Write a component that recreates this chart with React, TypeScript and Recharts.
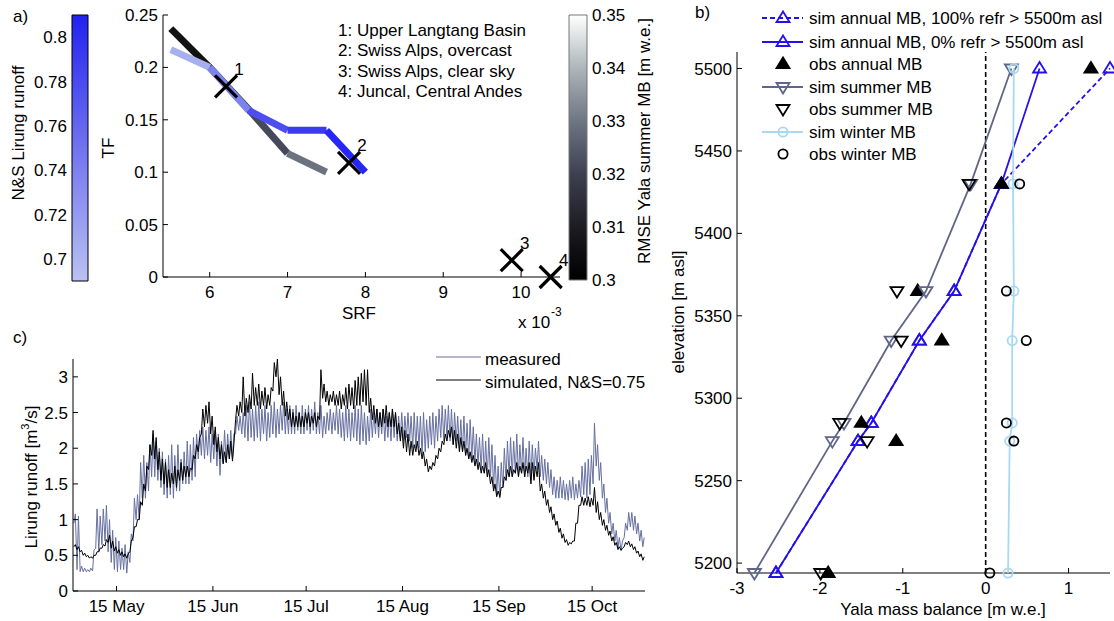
import React from "react";
import {
  ScatterChart,
  Scatter,
  LineChart,
  Line,
  XAxis,
  YAxis,
  ReferenceLine,
  ReferenceArea,
} from "recharts";

const FONT = '"Liberation Sans", Arial, Helvetica, sans-serif';
const TICK = { fontSize: 17, fill: "#000", fontFamily: FONT };
const AX = { stroke: "#000", strokeWidth: 1 };

// ---- panel a: TF vs SRF ----
const srfNS = [5.5, 6, 6.5, 7, 7.5, 8];
const tfNS = [0.217, 0.2, 0.159, 0.14, 0.14, 0.1];
const nsColors = ["#a7b0ee", "#7c83ef", "#4d4ef1", "#3a3af3", "#2727f5"];
const srfRMSE = [5.5, 6, 6.5, 7, 7.5];
const tfRMSE = [0.237, 0.2, 0.16, 0.118, 0.1];
const rmseColors = ["#121212", "#26262e", "#46495a", "#6c737f"];
const litSRF = [6.21, 7.79, 9.88, 10.38];
const litTF = [0.182, 0.109, 0.016, 0];
const litLabels = ["1", "2", "3", "4"];
const litNames = [
  "1: Upper Langtang Basin",
  "2: Swiss Alps, overcast",
  "3: Swiss Alps, clear sky",
  "4: Juncal, Central Andes",
];
const nsRange = [0.69, 0.81];
const nsTicks = [0.7, 0.72, 0.74, 0.76, 0.78, 0.8];
const rmseRange = [0.3, 0.35];
const rmseTicks = [0.3, 0.31, 0.32, 0.33, 0.34, 0.35];

// ---- panel b: Yala mass balance profile ----
const elev = [5194, 5274, 5285, 5335, 5365, 5430, 5500];
const simAnnual100 = [-2.53, -1.54, -1.38, -0.8, -0.38, 0.19, 1.5];
const simAnnual0 = [-2.53, -1.54, -1.38, -0.8, -0.38, 0.19, 0.65];
const obsAnnual = [-1.9, -1.08, -1.5, -0.53, -0.82, 0.19, 1.27];
const simSummer = [-2.79, -1.85, -1.71, -1.14, -0.72, -0.18, 0.31];
const obsSummer = [-1.99, -1.43, -1.76, -1.02, -1.07, -0.2, null];
const simWinter = [0.27, 0.29, 0.32, 0.32, 0.34, 0.33, 0.34];
const obsWinter = [0.05, 0.34, 0.25, 0.49, 0.25, 0.41, null];

// ---- panel c: Lirung runoff, daily high / low from 1 May ----
const measHi = [
  1.08, 1.05, 0.35, 0.32, 0.3, 0.32, 0.57, 1.15, 1.05, 1.15,
  1.2, 1.0, 0.85, 0.75, 0.7, 0.6, 0.65, 0.55, 0.8, 1.3,
  1.35, 1.8, 1.9, 1.8, 2.05, 2.2, 2.1, 2.0, 1.95, 1.85,
  1.9, 2.05, 1.9, 2.05, 1.85, 1.95, 2.1, 2.05, 2.15, 2.2,
  2.25, 2.3, 2.25, 2.3, 2.2, 2.25, 2.2, 2.1, 2.25, 2.2,
  2.25, 2.2, 2.45, 2.45, 2.5, 2.6, 2.65, 2.55, 2.6, 2.65,
  2.55, 2.6, 2.5, 2.6, 2.65, 2.55, 2.6, 2.65, 2.55, 2.6,
  2.55, 2.6, 2.5, 2.6, 2.55, 2.6, 2.55, 2.65, 2.5, 2.6,
  2.45, 2.5, 2.55, 2.5, 2.6, 2.55, 2.5, 2.6, 2.55, 2.5,
  2.6, 2.55, 2.6, 2.5, 2.45, 2.55, 2.5, 2.55, 2.5, 2.55,
  2.45, 2.5, 2.55, 2.5, 2.45, 2.5, 2.45, 2.5, 2.45, 2.5,
  2.45, 2.45, 2.5, 2.4, 2.45, 2.5, 2.45, 2.55, 2.6, 2.55,
  2.6, 2.55, 2.5, 2.45, 2.4, 2.45, 2.35, 2.4, 2.3, 2.2,
  2.15, 2.2, 2.1, 2.15, 2.05, 1.9, 1.75, 1.8, 2.0, 2.1,
  2.15, 2.1, 2.2, 2.05, 2.15, 2.0, 2.1, 2.05, 2.0, 2.1,
  1.9, 1.85, 1.8, 1.7, 1.6, 1.55, 1.6, 1.55, 1.5, 1.55,
  1.6, 1.5, 1.55, 1.75, 1.8, 1.85, 1.9, 2.35, 2.05, 1.8,
  1.5, 1.3, 1.1, 0.95, 0.85, 0.75, 0.7, 0.95, 1.1, 1.1,
  1.05, 0.95, 0.85, 0.75,
];
const measLo = [
  0.95, 0.3, 0.27, 0.27, 0.27, 0.27, 0.28, 0.6, 0.55, 0.65,
  0.7, 0.55, 0.4, 0.3, 0.27, 0.3, 0.3, 0.25, 0.4, 0.7,
  1.0, 1.0, 1.3, 1.3, 1.4, 1.6, 1.6, 1.55, 1.45, 1.35,
  1.3, 1.35, 1.3, 1.4, 1.4, 1.5, 1.5, 1.5, 1.55, 1.6,
  1.85, 1.9, 1.85, 1.9, 1.8, 1.85, 1.75, 1.62, 1.8, 1.8,
  1.85, 1.85, 2.2, 2.25, 2.2, 2.15, 2.1, 2.15, 2.1, 2.15,
  2.1, 2.2, 2.1, 2.15, 2.2, 2.15, 2.2, 2.25, 2.2, 2.2,
  2.2, 2.2, 2.25, 2.2, 2.2, 2.25, 2.2, 2.25, 2.2, 2.2,
  2.15, 2.2, 2.25, 2.2, 2.25, 2.2, 2.15, 2.1, 2.15, 2.1,
  2.15, 2.1, 2.05, 2.1, 2.05, 2.1, 2.15, 2.2, 2.15, 2.2,
  2.1, 2.15, 2.1, 2.15, 2.1, 2.15, 2.1, 2.15, 2.1, 2.0,
  2.0, 2.0, 1.9, 1.95, 2.0, 2.05, 2.0, 2.1, 2.15, 2.1,
  2.15, 2.1, 2.05, 2.1, 2.0, 1.95, 1.9, 1.85, 1.85, 1.8,
  1.75, 1.7, 1.65, 1.6, 1.6, 1.45, 1.35, 1.3, 1.45, 1.55,
  1.6, 1.6, 1.65, 1.6, 1.65, 1.6, 1.6, 1.55, 1.6, 1.7,
  1.6, 1.55, 1.5, 1.45, 1.35, 1.3, 1.3, 1.3, 1.28, 1.27,
  1.3, 1.28, 1.3, 1.32, 1.35, 1.3, 1.35, 1.5, 1.75, 1.55,
  1.3, 1.1, 0.95, 0.8, 0.7, 0.6, 0.57, 0.75, 0.85, 0.9,
  0.85, 0.8, 0.7, 0.62,
];
const simHi = [
  0.65, 0.62, 0.57, 0.53, 0.5, 0.48, 0.5, 0.55, 0.6, 0.65,
  0.72, 0.78, 0.7, 0.62, 0.58, 0.55, 0.52, 0.52, 0.7, 0.9,
  1.0, 1.25, 1.5, 1.75, 2.05, 2.25, 2.15, 1.95, 1.85, 1.8,
  1.7, 1.65, 1.75, 1.7, 1.8, 1.75, 1.75, 1.72, 1.9, 2.05,
  2.15, 2.55, 2.6, 2.65, 2.45, 2.3, 2.15, 2.05, 1.95, 2.05,
  2.1, 2.05, 2.6, 2.65, 3.0, 2.7, 2.75, 3.05, 2.85, 2.9,
  2.8, 2.85, 2.75, 2.85, 3.2, 3.25, 3.0, 2.8, 2.65, 2.55,
  2.5, 2.45, 2.5, 2.45, 2.5, 2.5, 2.45, 2.5, 2.45, 3.1,
  2.9, 2.8, 2.75, 2.8, 2.75, 2.8, 2.75, 2.85, 2.9, 2.85,
  2.95, 3.0, 3.05, 3.1, 3.1, 2.7, 2.6, 2.55, 2.5, 2.55,
  2.6, 2.5, 2.55, 2.5, 2.35, 2.3, 2.25, 2.2, 2.1, 2.05,
  2.1, 2.0, 1.95, 1.85, 1.75, 1.8, 1.9, 2.0, 2.1, 2.2,
  2.25, 2.3, 2.25, 2.2, 2.15, 2.1, 2.0, 1.95, 1.9, 1.85,
  1.8, 1.75, 1.8, 1.7, 1.6, 1.5, 1.4, 1.45, 1.6, 1.7,
  1.75, 1.7, 1.8, 1.75, 1.8, 1.75, 1.8, 1.8, 1.75, 1.8,
  1.5, 1.4, 1.28, 1.18, 1.08, 0.98, 0.88, 0.8, 0.72, 0.68,
  0.7, 0.95, 1.2, 1.32, 1.3, 1.32, 1.3, 1.45, 1.25, 1.1,
  1.0, 0.92, 0.84, 0.76, 0.68, 0.62, 0.6, 0.68, 0.7, 0.66,
  0.62, 0.56, 0.52, 0.48,
];
const simLo = [
  0.62, 0.58, 0.55, 0.5, 0.48, 0.46, 0.46, 0.5, 0.55, 0.6,
  0.63, 0.68, 0.6, 0.56, 0.53, 0.5, 0.48, 0.46, 0.55, 0.75,
  0.9, 1.0, 1.2, 1.4, 1.7, 1.9, 1.85, 1.7, 1.55, 1.5,
  1.45, 1.45, 1.5, 1.45, 1.55, 1.55, 1.6, 1.6, 1.7, 1.85,
  1.95, 2.2, 2.3, 2.35, 2.2, 2.05, 1.95, 1.85, 1.78, 1.8,
  1.85, 1.82, 2.4, 2.45, 2.5, 2.45, 2.5, 2.55, 2.6, 2.6,
  2.55, 2.6, 2.55, 2.6, 2.8, 3.0, 2.75, 2.6, 2.45, 2.4,
  2.3, 2.3, 2.3, 2.3, 2.3, 2.35, 2.3, 2.35, 2.3, 2.4,
  2.7, 2.65, 2.6, 2.65, 2.6, 2.6, 2.55, 2.6, 2.55, 2.6,
  2.55, 2.6, 2.6, 2.65, 2.6, 2.5, 2.4, 2.35, 2.3, 2.3,
  2.35, 2.3, 2.3, 2.3, 2.2, 2.1, 2.0, 1.95, 1.9, 1.9,
  1.95, 1.9, 1.85, 1.75, 1.67, 1.7, 1.75, 1.85, 1.95, 2.05,
  2.1, 2.15, 2.05, 2.0, 1.95, 1.95, 1.9, 1.85, 1.8, 1.75,
  1.7, 1.65, 1.65, 1.6, 1.5, 1.4, 1.32, 1.32, 1.45, 1.55,
  1.6, 1.6, 1.65, 1.6, 1.65, 1.6, 1.65, 1.5, 1.55, 1.6,
  1.4, 1.3, 1.2, 1.1, 1.0, 0.92, 0.82, 0.74, 0.68, 0.64,
  0.66, 0.7, 0.95, 1.2, 1.2, 1.2, 1.18, 1.2, 1.1, 1.0,
  0.92, 0.85, 0.78, 0.7, 0.64, 0.58, 0.57, 0.62, 0.65, 0.62,
  0.58, 0.53, 0.48, 0.43,
];
const dateTicks = [14, 45, 75, 106, 137, 167];
const dateLabels = ["15 May", "15 Jun", "15 Jul", "15 Aug", "15 Sep", "15 Oct"];

const MEAS = "#6670a0";
const BLUE = "#2410ee";
const SLATE = "#5f6688";
const SKY = "#a9d9f2";

const segments = (xs: number[], ys: number[], colors: string[]) =>
  colors.map((color, i) => ({
    color,
    pts: [
      { x: xs[i], y: ys[i] },
      { x: xs[i + 1], y: ys[i + 1] },
    ],
  }));
const nsSegs = segments(srfNS, tfNS, nsColors);
const rmseSegs = segments(srfRMSE, tfRMSE, rmseColors);
const litPts = litSRF.map((x, i) => ({ x, y: litTF[i], label: litLabels[i] }));

const profile = (xs: (number | null)[]) =>
  xs
    .map((x, i) => (x == null ? null : { x, y: elev[i] }))
    .filter((p) => p !== null) as { x: number; y: number }[];

const runoff = measHi.flatMap((_, d) => [
  { t: d + 0.3, m: measLo[d], s: simLo[d] },
  { t: d + 0.75, m: measHi[d], s: simHi[d] },
]);

const Empty = () => <g />;

const XMark = (p: any) => {
  const { cx, cy, payload } = p;
  const r = 11;
  return (
    <g>
      <path
        d={`M${cx - r},${cy - r}L${cx + r},${cy + r}M${cx - r},${cy + r}L${cx + r},${cy - r}`}
        stroke="#000"
        strokeWidth={3.2}
      />
      <text x={cx + 13} y={cy - 17} fontSize={17} fontFamily={FONT} textAnchor="middle" dominantBaseline="central">
        {payload.label}
      </text>
    </g>
  );
};

const triUp = (color: string, filled: boolean) => (p: any) => (
  <path
    d={`M${p.cx},${p.cy - 6.5}L${p.cx + 6.5},${p.cy + 4}L${p.cx - 6.5},${p.cy + 4}Z`}
    fill={filled ? color : "none"}
    stroke={color}
    strokeWidth={1.8}
  />
);
const triDown = (color: string) => (p: any) => (
  <path
    d={`M${p.cx},${p.cy + 6.5}L${p.cx + 6.5},${p.cy - 4}L${p.cx - 6.5},${p.cy - 4}Z`}
    fill="none"
    stroke={color}
    strokeWidth={1.8}
  />
);
const ring = (color: string) => (p: any) => (
  <circle cx={p.cx} cy={p.cy} r={4.6} fill="none" stroke={color} strokeWidth={1.8} />
);

const legendB = [
  { text: "sim annual MB, 100% refr > 5500m asl", line: BLUE, dash: "5 3", mark: "up", color: BLUE, fill: false },
  { text: "sim annual MB, 0% refr > 5500m asl", line: BLUE, dash: "", mark: "up", color: BLUE, fill: false },
  { text: "obs annual MB", line: "", dash: "", mark: "up", color: "#000", fill: true },
  { text: "sim summer MB", line: SLATE, dash: "", mark: "down", color: SLATE, fill: false },
  { text: "obs summer MB", line: "", dash: "", mark: "down", color: "#000", fill: false },
  { text: "sim winter MB", line: SKY, dash: "", mark: "ring", color: SKY, fill: false },
  { text: "obs winter MB", line: "", dash: "", mark: "ring", color: "#000", fill: false },
];
const legendBY = [18, 42, 64, 87, 109, 132, 154];

const Overlay = () => (
  <svg
    width={1114}
    height={621}
    style={{ position: "absolute", left: 0, top: 0, pointerEvents: "none" }}
    fontFamily={FONT}
    fontSize={17}
    fill="#000"
  >
    <text x={13} y={16} dominantBaseline="central">a)</text>
    <text x={695} y={12} dominantBaseline="central">b)</text>
    <text x={13} y={337} dominantBaseline="central">c)</text>

    {/* panel a labels */}
    <text x={18} y={133} textAnchor="middle" dominantBaseline="central" transform="rotate(-90 18 133)">
      N&amp;S Lirung runoff
    </text>
    <text x={108} y={148} textAnchor="middle" dominantBaseline="central" transform="rotate(-90 108 148)">
      TF
    </text>
    <text x={359} y={313} textAnchor="middle" dominantBaseline="central">SRF</text>
    <text x={518} y={322} dominantBaseline="central">x 10</text>
    <text x={551} y={312} fontSize={12} dominantBaseline="central">-3</text>
    {litNames.map((n, i) => (
      <text key={n} x={338} y={[30, 50, 71, 91][i]} dominantBaseline="central">
        {n}
      </text>
    ))}
    <text x={644} y={141} textAnchor="middle" dominantBaseline="central" transform="rotate(-90 644 141)">
      RMSE Yala summer MB [m w.e.]
    </text>

    {/* panel c labels */}
    <line x1={436} x2={481} y1={357} y2={357} stroke={MEAS} strokeWidth={1} />
    <text x={485} y={359} dominantBaseline="central">measured</text>
    <line x1={436} x2={481} y1={380} y2={380} stroke="#000" strokeWidth={1} />
    <text x={485} y={382} dominantBaseline="central">simulated, N&amp;S=0.75</text>
    <text x={31} y={477} textAnchor="middle" dominantBaseline="central" transform="rotate(-90 31 477)">
      Lirung runoff [m<tspan fontSize={11} dy={-6}>3</tspan>
      <tspan dy={6}>/s]</tspan>
    </text>

    {/* panel b labels */}
    {legendB.map((e, i) => {
      const y = legendBY[i];
      const cx = 783;
      return (
        <g key={e.text}>
          {e.line && (
            <line x1={762} x2={803} y1={y} y2={y} stroke={e.line} strokeWidth={1.8} strokeDasharray={e.dash || undefined} />
          )}
          {e.mark === "up" && triUp(e.color, e.fill)({ cx, cy: y })}
          {e.mark === "down" && triDown(e.color)({ cx, cy: y })}
          {e.mark === "ring" && ring(e.color)({ cx, cy: y })}
          <text x={809} y={y} dominantBaseline="central">
            {e.text}
          </text>
        </g>
      );
    })}
    <text x={678} y={312} textAnchor="middle" dominantBaseline="central" transform="rotate(-90 678 312)">
      elevation [m asl]
    </text>
    <text x={943} y={609} textAnchor="middle" dominantBaseline="central">
      Yala mass balance [m w.e.]
    </text>
  </svg>
);

export default function App() {
  return (
    <div
      style={{
        position: "absolute",
        left: 0,
        top: 0,
        width: 1114,
        height: 621,
        background: "#fff",
        fontFamily: FONT,
        overflow: "hidden",
      }}
    >
      {/* left colour bar */}
      <div style={{ position: "absolute", left: 0, top: 0 }}>
        <ScatterChart width={90} height={300} margin={{ top: 15, right: 2, bottom: 19, left: 0 }}>
          <defs>
            <linearGradient id="nsGrad" x1="0" y1="1" x2="0" y2="0">
              <stop offset="0" stopColor="#b9c2f2" />
              <stop offset="0.5" stopColor="#7173f0" />
              <stop offset="1" stopColor="#2222f0" />
            </linearGradient>
          </defs>
          <XAxis type="number" dataKey="x" domain={[0, 1]} hide />
          <YAxis
            type="number"
            dataKey="y"
            domain={nsRange}
            ticks={nsTicks}
            width={72}
            tickSize={0}
            tickMargin={5}
            axisLine={false}
            tickLine={false}
            tick={TICK}
          />
          <ReferenceArea
            x1={0}
            x2={1}
            y1={nsRange[0]}
            y2={nsRange[1]}
            fill="url(#nsGrad)"
            fillOpacity={1}
            stroke="#000"
            strokeWidth={1}
          />
          <Scatter
            data={[
              { x: 0, y: nsRange[0] },
              { x: 1, y: nsRange[1] },
            ]}
            shape={Empty}
            isAnimationActive={false}
          />
        </ScatterChart>
      </div>

      {/* right colour bar */}
      <div style={{ position: "absolute", left: 540, top: 0 }}>
        <ScatterChart width={120} height={300} margin={{ top: 15, right: 0, bottom: 20, left: 29 }}>
          <defs>
            <linearGradient id="rmseGrad" x1="0" y1="1" x2="0" y2="0">
              <stop offset="0" stopColor="#000000" />
              <stop offset="0.2" stopColor="#1c1c22" />
              <stop offset="0.4" stopColor="#3e4050" />
              <stop offset="0.6" stopColor="#6d7683" />
              <stop offset="0.8" stopColor="#adb6b9" />
              <stop offset="1" stopColor="#ffffff" />
            </linearGradient>
          </defs>
          <XAxis type="number" dataKey="x" domain={[0, 1]} hide />
          <YAxis
            type="number"
            dataKey="y"
            orientation="right"
            domain={rmseRange}
            ticks={rmseTicks}
            width={73}
            tickSize={0}
            tickMargin={5}
            axisLine={false}
            tickLine={false}
            tick={TICK}
          />
          <ReferenceArea
            x1={0}
            x2={1}
            y1={rmseRange[0]}
            y2={rmseRange[1]}
            fill="url(#rmseGrad)"
            fillOpacity={1}
            stroke="#777"
            strokeWidth={1}
          />
          <Scatter
            data={[
              { x: 0, y: rmseRange[0] },
              { x: 1, y: rmseRange[1] },
            ]}
            shape={Empty}
            isAnimationActive={false}
          />
        </ScatterChart>
      </div>

      {/* panel a */}
      <div style={{ position: "absolute", left: 0, top: 0 }}>
        <ScatterChart width={600} height={330} margin={{ top: 15, right: 40, bottom: 0, left: 0 }}>
          <XAxis
            type="number"
            dataKey="x"
            domain={[5.4, 10.5]}
            ticks={[6, 7, 8, 9, 10]}
            height={53}
            tickSize={-5}
            tickMargin={14}
            axisLine={AX}
            tickLine={AX}
            tick={TICK}
          />
          <YAxis
            type="number"
            dataKey="y"
            domain={[0, 0.25]}
            ticks={[0, 0.05, 0.1, 0.15, 0.2, 0.25]}
            width={163}
            tickSize={-5}
            tickMargin={10}
            axisLine={AX}
            tickLine={AX}
            tick={TICK}
          />
          {rmseSegs.map((s, i) => (
            <Scatter
              key={"r" + i}
              data={s.pts}
              shape={Empty}
              line={{ stroke: s.color, strokeWidth: 7, strokeLinecap: "butt" }}
              isAnimationActive={false}
            />
          ))}
          {nsSegs.map((s, i) => (
            <Scatter
              key={"n" + i}
              data={s.pts}
              shape={Empty}
              line={{ stroke: s.color, strokeWidth: 7, strokeLinecap: "butt" }}
              isAnimationActive={false}
            />
          ))}
          <Scatter data={litPts} shape={XMark} isAnimationActive={false} />
        </ScatterChart>
      </div>

      {/* panel c */}
      <div style={{ position: "absolute", left: 0, top: 341 }}>
        <LineChart width={660} height={280} data={runoff} margin={{ top: 18, right: 15, bottom: 0, left: 0 }}>
          <XAxis
            type="number"
            dataKey="t"
            domain={[0, 184]}
            ticks={dateTicks}
            tickFormatter={(v) => dateLabels[dateTicks.indexOf(v)]}
            height={30}
            tickSize={-5}
            tickMargin={14}
            axisLine={AX}
            tickLine={AX}
            tick={TICK}
          />
          <YAxis
            type="number"
            domain={[0, 3.25]}
            ticks={[0, 0.5, 1, 1.5, 2, 2.5, 3]}
            width={73}
            tickSize={-5}
            tickMargin={10}
            axisLine={AX}
            tickLine={AX}
            tick={TICK}
          />
          <Line dataKey="m" stroke={MEAS} strokeWidth={1} dot={false} isAnimationActive={false} />
          <Line dataKey="s" stroke="#000" strokeWidth={1} dot={false} isAnimationActive={false} />
        </LineChart>
      </div>

      {/* panel b */}
      <div style={{ position: "absolute", left: 660, top: 0 }}>
        <ScatterChart width={454} height={621} margin={{ top: 52, right: 4, bottom: 0, left: 0 }}>
          <XAxis
            type="number"
            dataKey="x"
            domain={[-3, 1.5]}
            ticks={[-3, -2, -1, 0, 1]}
            height={48}
            tickSize={-5}
            tickMargin={14}
            axisLine={AX}
            tickLine={AX}
            tick={TICK}
          />
          <YAxis
            type="number"
            dataKey="y"
            domain={[5194, 5510]}
            ticks={[5200, 5250, 5300, 5350, 5400, 5450, 5500]}
            width={77}
            tickSize={-5}
            tickMargin={10}
            axisLine={AX}
            tickLine={AX}
            tick={TICK}
          />
          <ReferenceLine x={0} stroke="#000" strokeWidth={1.6} strokeDasharray="5 3" />
          <Scatter
            data={profile(simAnnual100)}
            shape={triUp(BLUE, false)}
            line={{ stroke: BLUE, strokeWidth: 1.8, strokeDasharray: "5 3" }}
            isAnimationActive={false}
          />
          <Scatter
            data={profile(simAnnual0)}
            shape={triUp(BLUE, false)}
            line={{ stroke: BLUE, strokeWidth: 1.8 }}
            isAnimationActive={false}
          />
          <Scatter data={profile(obsAnnual)} shape={triUp("#000", true)} isAnimationActive={false} />
          <Scatter
            data={profile(simSummer)}
            shape={triDown(SLATE)}
            line={{ stroke: SLATE, strokeWidth: 1.8 }}
            isAnimationActive={false}
          />
          <Scatter data={profile(obsSummer)} shape={triDown("#000")} isAnimationActive={false} />
          <Scatter
            data={profile(simWinter)}
            shape={ring(SKY)}
            line={{ stroke: SKY, strokeWidth: 1.8 }}
            isAnimationActive={false}
          />
          <Scatter data={profile(obsWinter)} shape={ring("#000")} isAnimationActive={false} />
        </ScatterChart>
      </div>

      <Overlay />
    </div>
  );
}
